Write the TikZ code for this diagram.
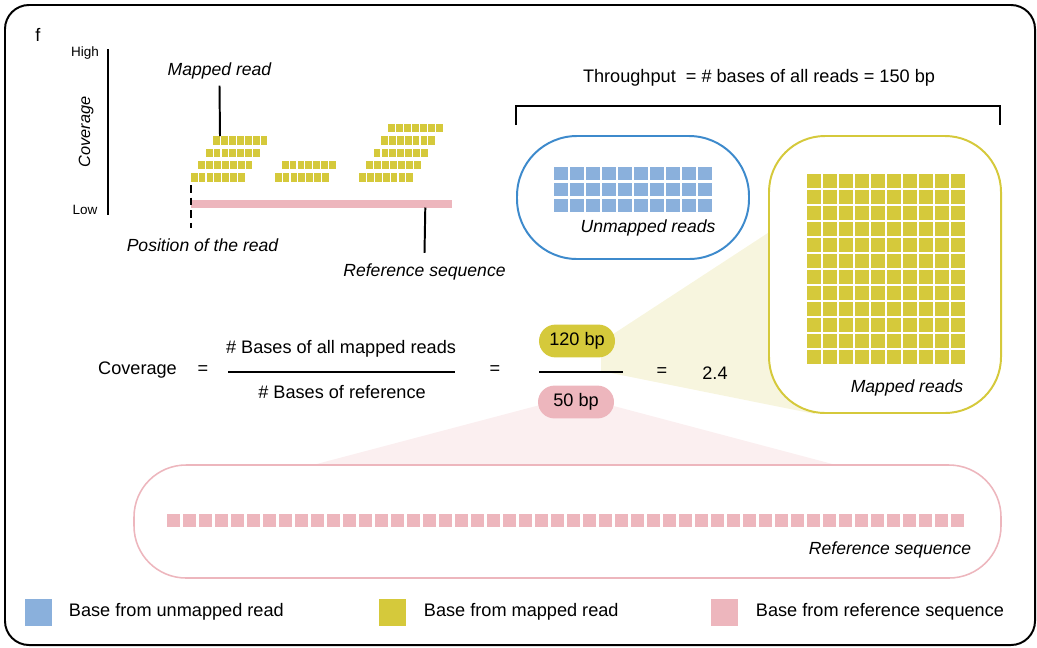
\documentclass[tikz,border=0pt]{standalone}
\usepackage{fontspec}
\setmainfont{Liberation Sans}
\definecolor{mapyellow}{HTML}{D5C93B}
\definecolor{unmapblue}{HTML}{8AB0DC}
\definecolor{boxblue}{HTML}{3D8ACC}
\definecolor{refpink}{HTML}{EDB6BD}
\definecolor{fanyellow}{HTML}{F7F5DE}
\definecolor{fanpink}{HTML}{FBEFF0}
\tikzset{
  lbl/.style={font=\fontsize{12.9}{15}\selectfont},
  itlbl/.style={font=\fontsize{12.5}{15}\selectfont\itshape},
  small/.style={font=\fontsize{9.6}{11}\selectfont},
  pill/.style={lbl, rounded corners=0.41cm, minimum width=1.9cm, minimum height=0.82cm, inner sep=0pt},
  rule/.style={line width=1.4pt},
}
% one read of seven bases, top left corner at (#1,#2)
\newcommand{\readrow}[2]{\foreach \k in {0,...,6} \fill[mapyellow] (#1+\k*7.9, #2) rectangle ++(6.8, 8.3);}

\begin{document}
\begin{tikzpicture}[x=0.025cm, y=-0.025cm]
  \useasboundingbox (0,0) rectangle (1037,647) ;
  \draw[rule, rounded corners=0.6cm] (5,5) rectangle (1035,645) ;
  \node[lbl] (panel) at (38,35) {f} ;
  % coverage sketch
  \draw[rule] (108,49) -- (108,215) ;
  \node[small] (high) at (85,53) {High} ;
  \node[small] (low) at (85,210) {Low} ;
  \node[font=\fontsize{11.6}{13}\selectfont\itshape, rotate=90] (covaxis) at (86,132) {Coverage} ;
  \readrow{190.7}{173.3} \readrow{198.2}{161} \readrow{205.7}{148.6} \readrow{213.2}{136.2}
  \readrow{274.7}{173.3} \readrow{281.7}{161}
  \readrow{359}{173.3} \readrow{366.3}{161} \readrow{373.6}{148.6} \readrow{381}{136.2} \readrow{388.3}{123.8}
  \fill[refpink] (191,200) rectangle (452,207.5) ;
  \node[itlbl] (mappedlbl) at (219.5,71) {Mapped read} ;
  \coordinate (mappedtop) at (220,136) ;
  \draw[rule] ([yshift=-1pt]mappedlbl.south) -- (mappedtop) ;
  \coordinate (readpos) at (191.3,185) ;
  \coordinate (readend) at (191.3,228) ;
  \draw[rule, dash pattern=on 5.5pt off 3.5pt] (readpos) -- (readend) ;
  \node[itlbl] (poslbl) at (202.5,245.6) {Position of the read} ;
  \coordinate (barpt) at (425.3,207.5) ;
  \node[itlbl] (reflbl) at (424.5,271.7) {Reference sequence} ;
  \draw[rule] (barpt) -- ([yshift=4pt]reflbl.north) ;
  % throughput bracket
  \node[lbl] (tput) at (759,78) {Throughput \ = \# bases of all reads = 150 bp} ;
  \draw[rule] (516,125) -- (516,106) -- (1000,106) -- (1000,125) ;
  % zoom fans
  \fill[fanyellow] (601,342) -- (800,212) -- (815,414) -- (601,371) -- cycle ;
  \fill[fanpink] (540,405) -- (610,405) -- (840,466) -- (309,466) -- cycle ;
  % unmapped reads
  \draw[boxblue, rule, fill=white, rounded corners=1.5cm] (517,136) rectangle (749,259) ;
  \foreach \i in {0,...,9} \foreach \j in {0,...,2}
    \fill[unmapblue] (554+\i*16, 167+\j*16) rectangle ++(13.5,13) ;
  \node[itlbl] (unmaplbl) at (648,228) {Unmapped reads} ;
  % mapped reads
  \draw[mapyellow, rule, fill=white, rounded corners=1.4cm] (769,136) rectangle (1001,413) ;
  \foreach \i in {0,...,9} \foreach \j in {0,...,11}
    \fill[mapyellow] (807+\i*16, 174+\j*16) rectangle ++(13.5,13.5) ;
  \node[itlbl] (maplbl) at (907,388) {Mapped reads} ;
  % reference sequence
  \draw[refpink, line width=1.1pt, fill=white, rounded corners=1.3cm] (134,465) rectangle (1001,578) ;
  \foreach \i in {0,...,49}
    \fill[refpink] (167+\i*16, 514) rectangle ++(13,13) ;
  \node[itlbl] (refseqlbl) at (890,550) {Reference sequence} ;
  % formula
  \node[lbl] (covlbl) at (137.5,370) {Coverage} ;
  \node[lbl] (eqA) at (203,370) {=} ;
  \node[lbl] (numA) at (341,349) {\# Bases of all mapped reads} ;
  \draw[rule] (228,372) -- (455,372) ;
  \node[lbl] (denA) at (342,392) {\# Bases of reference} ;
  \node[lbl] (eqB) at (495,370) {=} ;
  \node[pill, fill=mapyellow] (numB) at (577,341) {120 bp} ;
  \draw[rule] (539,372) -- (623,372) ;
  \node[pill, fill=refpink] (denB) at (576,402) {50 bp} ;
  \node[lbl] (eqC) at (662,372) {=} ;
  \node[lbl] (ratio) at (715,373) {2.4} ;
  % legend
  \fill[unmapblue] (25,599) rectangle (52,626) ;
  \node[lbl, anchor=west] (legA) at (64,612) {Base from unmapped read} ;
  \fill[mapyellow] (379,599) rectangle (406,626) ;
  \node[lbl, anchor=west] (legB) at (419,612) {Base from mapped read} ;
  \fill[refpink] (711,599) rectangle (738,626) ;
  \node[lbl, anchor=west] (legC) at (751,612) {Base from reference sequence} ;
\end{tikzpicture}
\end{document}
